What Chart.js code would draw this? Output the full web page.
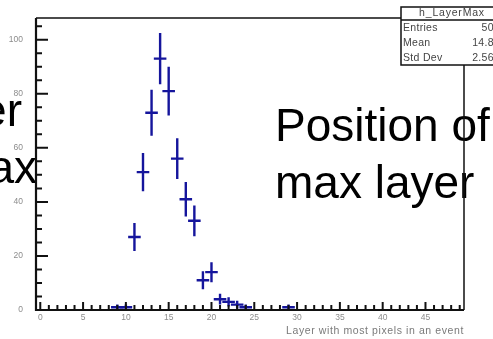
<!DOCTYPE html>
<html>
<head>
<meta charset="utf-8">
<script src="https://cdn.jsdelivr.net/npm/chart.js@4.4.1/dist/chart.umd.min.js"></script>
<style>
  html, body { margin: 0; padding: 0; background: #fff; }
  canvas { display: block; }
</style>
</head>
<body>
<canvas id="layerChart" width="493" height="339"></canvas>
<script>
// Histogram h_LayerMax, bins centred on integer layers
const layers = [9, 10, 11, 12, 13, 14, 15, 16, 17, 18, 19, 20, 21, 22, 23, 24, 29];
const counts = [1, 1, 27, 51, 73, 93, 81, 56, 41, 33, 11, 14, 4, 3, 2, 1, 1];
const errors = [1, 1, 5.2, 7.1, 8.5, 9.5, 9, 7.5, 6.4, 5.7, 3.3, 3.7, 2, 1.7, 1.4, 1, 1];

const xTicks = [0, 5, 10, 15, 20, 25, 30, 35, 40, 45];
const yTicks = [0, 20, 40, 60, 80, 100];

const statLabels = ['Entries', 'Mean', 'Std Dev'];
const statValues = ['500', '14.83', '2.564'];

const FONT = "'Liberation Sans', Arial, sans-serif";
const BLUE = '#15159c';

// error bars: vertical = count error, horizontal = bin half width
const errorBarPlugin = {
    id: 'errorBars',
    afterDatasetsDraw(chart) {
        const ctx = chart.ctx;
        const xs = chart.scales.x;
        const ys = chart.scales.y;
        ctx.save();
        ctx.strokeStyle = BLUE;
        ctx.lineWidth = 2.4;
        layers.forEach((l, i) => {
            const px = xs.getPixelForValue(l);
            const py = ys.getPixelForValue(counts[i]);
            const top = ys.getPixelForValue(counts[i] + errors[i]);
            const bot = ys.getPixelForValue(Math.max(0, counts[i] - errors[i]));
            const left = xs.getPixelForValue(l - 0.5) - 2;
            const right = xs.getPixelForValue(l + 0.5) + 2;
            ctx.beginPath();
            ctx.moveTo(px, top);
            ctx.lineTo(px, bot);
            ctx.moveTo(left, py);
            ctx.lineTo(right, py);
            ctx.stroke();
        });
        ctx.restore();
    }
};

// ROOT-like frame, inward ticks, overlaid texts and stats box
const framePlugin = {
    id: 'rootFrame',
    afterDraw(chart) {
        const ctx = chart.ctx;
        const a = chart.chartArea;
        const xs = chart.scales.x;
        const ys = chart.scales.y;
        const spacing = (v) => { if ('letterSpacing' in ctx) ctx.letterSpacing = v; };
        ctx.save();

        // big overlay text
        ctx.fillStyle = '#000';
        ctx.font = `46px ${FONT}`;
        ctx.textBaseline = 'alphabetic';
        ctx.textAlign = 'left';
        ctx.fillText('Position of', 275, 141);
        ctx.fillText('max layer', 275, 198);
        ctx.textAlign = 'right';
        ctx.fillText('er', 22, 126);
        ctx.fillText('ax', 37, 183);

        // frame
        ctx.strokeStyle = '#111';
        ctx.lineWidth = 1.5;
        ctx.beginPath();
        ctx.moveTo(a.left, a.top);
        ctx.lineTo(a.right, a.top);
        ctx.lineTo(a.right, a.bottom);
        ctx.stroke();
        ctx.lineWidth = 2.2;
        ctx.beginPath();
        ctx.moveTo(a.left, a.top);
        ctx.lineTo(a.left, a.bottom);
        ctx.lineTo(a.right, a.bottom);
        ctx.stroke();

        // y ticks
        ctx.lineWidth = 2;
        ctx.beginPath();
        for (let v = 0; v <= ys.max; v += 5) {
            const py = ys.getPixelForValue(v);
            const len = v % 20 === 0 ? 12 : 6;
            ctx.moveTo(a.left, py);
            ctx.lineTo(a.left + len, py);
        }
        // x ticks
        for (let v = 0; v <= xs.max; v += 1) {
            const px = xs.getPixelForValue(v);
            const len = v % 5 === 0 ? 8 : 5;
            ctx.moveTo(px, a.bottom);
            ctx.lineTo(px, a.bottom - len);
        }
        ctx.stroke();

        // x axis title
        ctx.fillStyle = '#7a7a7a';
        ctx.font = `10.5px ${FONT}`;
        ctx.textAlign = 'right';
        ctx.textBaseline = 'middle';
        spacing('0.6px');
        ctx.fillText('Layer with most pixels in an event', a.right, 331);
        spacing('0px');

        // stats box
        const bx = 401, by = 7, bw = 110, bh = 58;
        ctx.fillStyle = '#fff';
        ctx.fillRect(bx, by, bw, bh);
        ctx.strokeStyle = '#111';
        ctx.lineWidth = 1.5;
        ctx.strokeRect(bx, by, bw, bh);
        ctx.beginPath();
        ctx.moveTo(bx, 20);
        ctx.lineTo(bx + bw, 20);
        ctx.stroke();
        ctx.fillStyle = '#444';
        ctx.font = `10.5px ${FONT}`;
        ctx.textAlign = 'center';
        spacing('0.8px');
        ctx.fillText('h_LayerMax', 452, 13.5);
        spacing('0.3px');
        statLabels.forEach((lab, i) => {
            const rowY = 28 + i * 15;
            ctx.textAlign = 'left';
            ctx.fillText(lab, 403, rowY);
            ctx.textAlign = 'right';
            ctx.fillText(statValues[i], 500, rowY);
        });
        spacing('0px');
        ctx.restore();
    }
};

const layerChartElem = document.getElementById('layerChart');
const layerChart = new Chart(layerChartElem, {
    type: 'scatter',
    data: {
        datasets: [{
            label: 'h_LayerMax',
            data: layers.map((l, i) => ({ x: l, y: counts[i] })),
            pointRadius: 0,
            showLine: false
        }]
    },
    options: {
        responsive: false,
        animation: false,
        layout: { padding: { top: 18, right: 29, left: 0, bottom: 0 } },
        plugins: {
            legend: { display: false },
            tooltip: { enabled: false }
        },
        scales: {
            x: {
                type: 'linear',
                min: -0.5,
                max: 49.5,
                afterBuildTicks: (scale) => { scale.ticks = xTicks.map(v => ({ value: v })); },
                afterFit: (scale) => { scale.height = 29; },
                grid: { display: false, drawTicks: false },
                border: { display: false },
                ticks: {
                    color: '#8c8c8c',
                    font: { family: FONT, size: 8.5 },
                    padding: 3,
                    maxRotation: 0,
                    autoSkip: false
                }
            },
            y: {
                min: 0,
                max: 108,
                afterBuildTicks: (scale) => { scale.ticks = yTicks.map(v => ({ value: v })); },
                afterFit: (scale) => { scale.width = 36; },
                grid: { display: false, drawTicks: false },
                border: { display: false },
                ticks: {
                    color: '#8c8c8c',
                    font: { family: FONT, size: 8.5 },
                    padding: 13
                }
            }
        }
    },
    plugins: [errorBarPlugin, framePlugin]
});
</script>
</body>
</html>
